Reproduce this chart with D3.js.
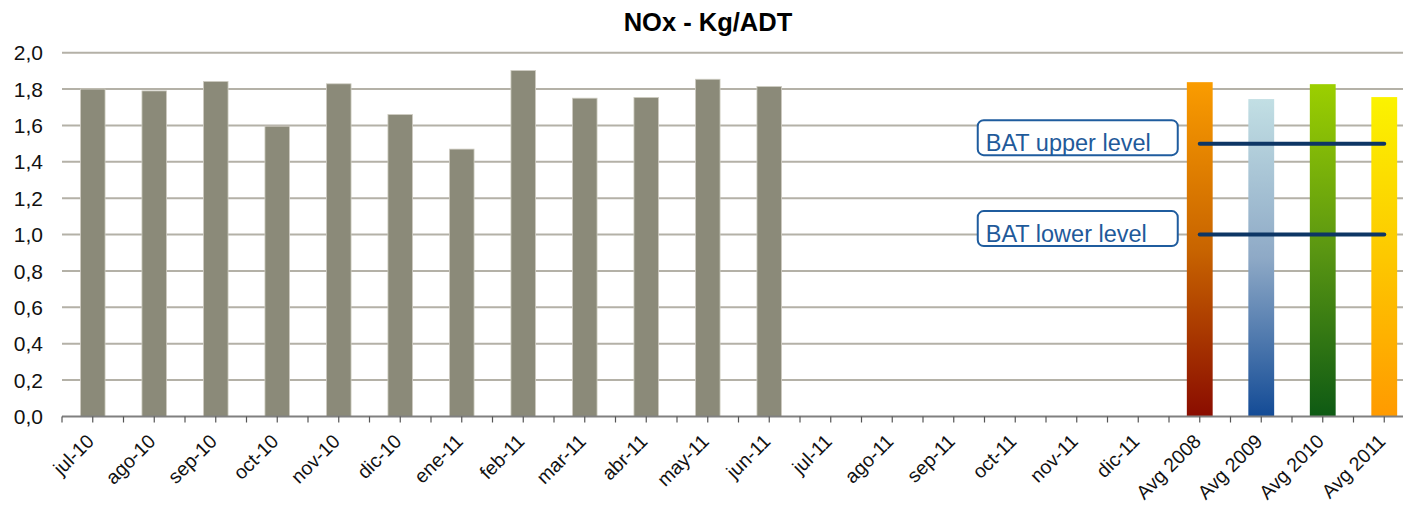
<!DOCTYPE html>
<html>
<head>
<meta charset="utf-8">
<script src="https://cdn.jsdelivr.net/npm/d3@7/dist/d3.min.js"></script>
<style>
  body { margin: 0; background: #fff; }
  svg text { font-family: Arial, "Liberation Sans", sans-serif; }
</style>
</head>
<body>
<script>
// monthly values, then yearly averages
var months = ["jul-10", "ago-10", "sep-10", "oct-10", "nov-10", "dic-10",
              "ene-11", "feb-11", "mar-11", "abr-11", "may-11", "jun-11",
              "jul-11", "ago-11", "sep-11", "oct-11", "nov-11", "dic-11"];
var monthValues = [1.80, 1.79, 1.842, 1.596, 1.829, 1.66,
                   1.47, 1.902, 1.75, 1.754, 1.854, 1.814,
                   null, null, null, null, null, null];
var avgLabels = ["Avg 2008", "Avg 2009", "Avg 2010", "Avg 2011"];
var avgValues = [1.838, 1.745, 1.827, 1.756];
var batLabels = ["BAT upper level", "BAT lower level"];
var batValues = [1.5, 1.0];
var yTicks = [0, 0.2, 0.4, 0.6, 0.8, 1.0, 1.2, 1.4, 1.6, 1.8, 2.0];

// top / middle / bottom colours of the average bars
var avgGradients = [
    ["#fa9c00", "#c86400", "#8a0c00"],
    ["#c2dfe4", "#8ea9c6", "#134b96"],
    ["#9ccf00", "#5a9612", "#0e5a14"],
    ["#fbf300", "#fdc800", "#ff9a00"]
];

var W = 1403, H = 510;
var left = 62, band = 61.5;
var categories = months.concat(avgLabels);

function translate(a, b) {
    return "translate(" + a + "," + b + ")";
}

var svg = d3.select("body").append("svg")
    .attr("width", W)
    .attr("height", H);

var x = d3.scaleBand()
    .domain(categories)
    .range([left, left + band * categories.length]);

var y = d3.scaleLinear()
    .domain([0, 2])
    .range([416.5, 52.7]);

var fmt = function(v) { return d3.format(".1f")(v).replace(".", ","); };

// title
svg.append("text")
    .attr("x", 708)
    .attr("y", 31)
    .attr("text-anchor", "middle")
    .attr("font-size", 25.5)
    .attr("font-weight", "bold")
    .text("NOx - Kg/ADT");

// grid
svg.append("g").selectAll("line")
    .data(yTicks.filter(function(d) { return d > 0; }))
    .enter().append("line")
    .attr("x1", left).attr("x2", W)
    .attr("y1", function(d) { return y(d); })
    .attr("y2", function(d) { return y(d); })
    .attr("stroke", "#b4b1a7")
    .attr("stroke-width", 2);

// y labels
svg.append("g").selectAll("text")
    .data(yTicks)
    .enter().append("text")
    .attr("x", 43)
    .attr("y", function(d) { return y(d); })
    .attr("dy", "0.36em")
    .attr("text-anchor", "end")
    .attr("font-size", 21)
    .attr("fill", "#111")
    .text(fmt);

// gradients
var defs = svg.append("defs");
avgGradients.forEach(function(cols, i) {
    var g = defs.append("linearGradient")
        .attr("id", "grad" + i)
        .attr("x1", 0).attr("y1", 0).attr("x2", 0).attr("y2", 1);
    cols.forEach(function(c, j) {
        g.append("stop")
            .attr("offset", (j / (cols.length - 1)) * 100 + "%")
            .attr("stop-color", c);
    });
});

// monthly bars
var monthData = months.map(function(m, i) { return {cat: m, value: monthValues[i]}; })
    .filter(function(d) { return d.value != null; });

var bw = x.bandwidth() * 0.4;
svg.append("g").selectAll("rect")
    .data(monthData)
    .enter().append("rect")
    .attr("x", function(d) { return x(d.cat) + (x.bandwidth() - bw) / 2; })
    .attr("y", function(d) { return y(d.value); })
    .attr("width", bw)
    .attr("height", function(d) { return y(0) - y(d.value); })
    .attr("fill", "#8b8a79")
    .attr("stroke", "#cfcdc2")
    .attr("stroke-width", 0.8);

// average bars
var aw = x.bandwidth() * 0.42;
svg.append("g").selectAll("rect")
    .data(avgLabels.map(function(a, i) { return {cat: a, value: avgValues[i], i: i}; }))
    .enter().append("rect")
    .attr("x", function(d) { return x(d.cat) + (x.bandwidth() - aw) / 2; })
    .attr("y", function(d) { return y(d.value); })
    .attr("width", aw)
    .attr("height", function(d) { return y(0) - y(d.value); })
    .attr("fill", function(d) { return "url(#grad" + d.i + ")"; });

// x axis
svg.append("line")
    .attr("x1", left).attr("x2", W)
    .attr("y1", y(0)).attr("y2", y(0))
    .attr("stroke", "#808080")
    .attr("stroke-width", 2);

var tickX = [];
categories.forEach(function(c) {
    tickX.push(x(c));
    tickX.push(x(c) + x.bandwidth() / 2);
});
svg.append("g").selectAll("line")
    .data(tickX)
    .enter().append("line")
    .attr("x1", function(d) { return d; })
    .attr("x2", function(d) { return d; })
    .attr("y1", y(0))
    .attr("y2", y(0) + 6)
    .attr("stroke", "#555")
    .attr("stroke-width", 1.2);

svg.append("g").selectAll("text")
    .data(categories)
    .enter().append("text")
    .attr("text-anchor", "end")
    .attr("font-size", 19.5)
    .attr("fill", "#111")
    .attr("transform", function(d) {
        return translate(x(d) + x.bandwidth() / 2 + 2.5, y(0) + 26) + " rotate(-45)";
    })
    .text(function(d) { return d; });

// BAT lines and their labels
var x0 = x(avgLabels[0]) + x.bandwidth() / 2;
var x1 = x(avgLabels[avgLabels.length - 1]) + x.bandwidth() / 2;

batValues.forEach(function(v, i) {
    var ly = y(v);
    svg.append("line")
        .attr("x1", x0).attr("x2", x1)
        .attr("y1", ly).attr("y2", ly)
        .attr("stroke", "#0d3665")
        .attr("stroke-width", 4)
        .attr("stroke-linecap", "round");

    var bx = x0 - 222, by = ly - 23.5;
    svg.append("rect")
        .attr("x", bx).attr("y", by)
        .attr("width", 200).attr("height", 35)
        .attr("rx", 6)
        .attr("fill", "#fff")
        .attr("stroke", "#1f5c9e")
        .attr("stroke-width", 2);
    svg.append("text")
        .attr("x", bx + 8)
        .attr("y", by + 31)
        .attr("font-size", 23.5)
        .attr("fill", "#1f5a9a")
        .text(batLabels[i]);
});
</script>
</body>
</html>
